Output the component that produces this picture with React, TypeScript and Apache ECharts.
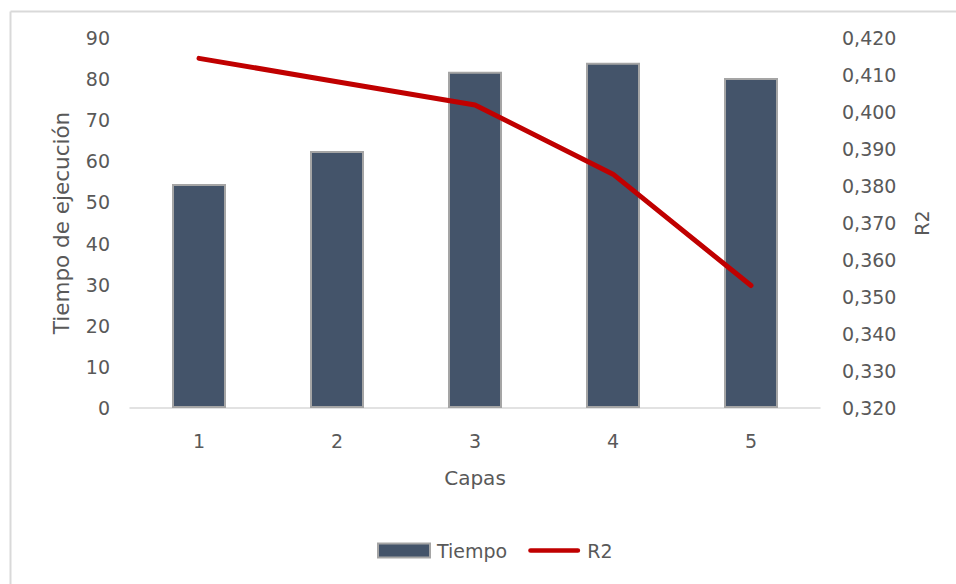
import React, { useEffect, useRef } from "react";
import * as echarts from "echarts";

// Number of layers on the x axis
const capas = ["1", "2", "3", "4", "5"];
// Execution time per configuration (left axis)
const tiempo = [54.5, 62.5, 81.8, 84.0, 80.3];
// R2 score per configuration (right axis)
const r2 = [0.4145, 0.4082, 0.4019, 0.3832, 0.3531];

const FONT = "DejaVu Sans";
const TEXT = "#595959";

// Thin rounded bar used as the legend swatch of the line series
const LINE_ICON = "path://M2.5,0 H52.5 A2.5,2.5 0 0 1 52.5,5 H2.5 A2.5,2.5 0 0 1 2.5,0 Z";

export default function App() {
  const ref = useRef<HTMLDivElement>(null);

  useEffect(() => {
    if (!ref.current) return;
    const chart = echarts.init(ref.current, null, { renderer: "svg" });
    chart.setOption({
      animation: false,
      backgroundColor: "#ffffff",
      textStyle: { fontFamily: FONT, color: TEXT },
      grid: { left: 130, right: 136, top: 38, bottom: 176 },
      graphic: [
        {
          type: "line",
          shape: { x1: 10.5, y1: 11.5, x2: 10.5, y2: 584 },
          style: { stroke: "#d9d9d9", lineWidth: 2 },
        },
        {
          type: "line",
          shape: { x1: 10.5, y1: 11.5, x2: 956, y2: 11.5 },
          style: { stroke: "#d9d9d9", lineWidth: 2 },
        },
      ],
      legend: {
        left: 377,
        top: 541,
        padding: 0,
        itemGap: 21,
        itemWidth: 52,
        itemHeight: 14,
        textStyle: { fontFamily: FONT, fontSize: 19, color: TEXT, padding: [0, 0, 0, 2] },
        data: [
          { name: "Tiempo", icon: "rect" },
          { name: "R2", icon: LINE_ICON },
        ],
      },
      xAxis: {
        type: "category",
        data: capas,
        name: "Capas",
        nameLocation: "middle",
        nameGap: 60,
        nameTextStyle: { fontFamily: FONT, fontSize: 20, color: TEXT },
        axisLine: { show: true, lineStyle: { color: "#d9d9d9", width: 1.5 } },
        axisTick: { show: false },
        axisLabel: { fontFamily: FONT, fontSize: 19, color: TEXT, margin: 23 },
      },
      yAxis: [
        {
          type: "value",
          min: 0,
          max: 90,
          interval: 10,
          name: "Tiempo de ejecución",
          nameLocation: "middle",
          nameGap: 58,
          nameTextStyle: { fontFamily: FONT, fontSize: 21.5, color: TEXT },
          axisLine: { show: false },
          axisTick: { show: false },
          splitLine: { show: false },
          axisLabel: { fontFamily: FONT, fontSize: 19, color: TEXT, margin: 20 },
        },
        {
          type: "value",
          min: 0.32,
          max: 0.42,
          interval: 0.01,
          name: "R2",
          nameLocation: "middle",
          nameRotate: 90,
          nameGap: 92,
          nameTextStyle: { fontFamily: FONT, fontSize: 19, color: TEXT },
          axisLine: { show: false },
          axisTick: { show: false },
          splitLine: { show: false },
          axisLabel: {
            fontFamily: FONT,
            fontSize: 19,
            color: TEXT,
            margin: 22,
            formatter: (v: number) => v.toFixed(3).replace(".", ","),
          },
        },
      ],
      series: [
        {
          name: "Tiempo",
          type: "bar",
          yAxisIndex: 0,
          data: tiempo,
          barWidth: 54,
          itemStyle: { color: "#44546a", borderColor: "#a5a5a5", borderWidth: 2 },
        },
        {
          name: "R2",
          type: "line",
          yAxisIndex: 1,
          data: r2,
          symbol: "none",
          lineStyle: { color: "#c00000", width: 5, cap: "round", join: "round" },
          itemStyle: { color: "#c00000" },
        },
      ],
    });
    return () => chart.dispose();
  }, []);

  return (
    <div
      ref={ref}
      style={{ position: "fixed", left: 0, top: 0, width: 956, height: 584 }}
    />
  );
}
